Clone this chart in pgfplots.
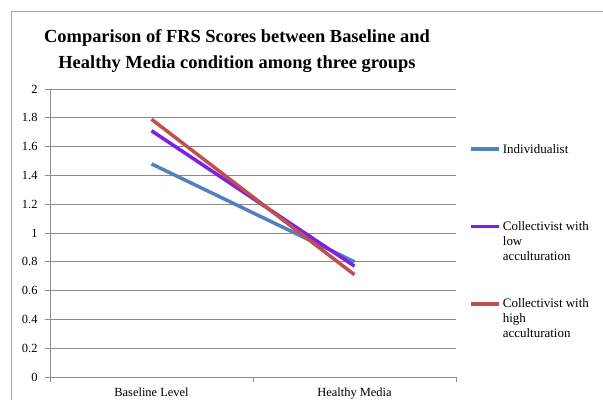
\documentclass[border=0pt]{standalone}
\usepackage{pgfplots}
\pgfplotsset{compat=1.18}
\usepackage{fontspec}
\setmainfont{Liberation Serif}
\definecolor{cblue}{HTML}{4F81BD}
\definecolor{cpurple}{HTML}{7F1FDF}
\definecolor{cred}{HTML}{C0504D}
\definecolor{cgrid}{HTML}{8C8C8C}
\begin{document}
\begin{tikzpicture}[x=1bp,y=1bp]
\useasboundingbox (0,0) rectangle (603,400);
\draw[black!35, line width=1bp] (11.5,0) -- (11.5,388.5) -- (603,388.5);
\node[font=\bfseries\fontsize{18.5}{22}\selectfont, anchor=base] at (237,358) {Comparison of FRS Scores between Baseline and};
\node[font=\bfseries\fontsize{18.5}{22}\selectfont, anchor=base] at (237,332) {Healthy Media condition among three groups};
\begin{axis}[
  at={(50bp,23bp)}, anchor=south west,
  scale only axis, width=406bp, height=288bp,
  xmin=-0.5, xmax=1.5, ymin=0, ymax=2,
  axis x line=bottom, axis y line=left,
  axis line style={-, cgrid, line width=0.8bp},
  xtick={-0.5,0.5,1.5}, x tick label as interval,
  xticklabels={Baseline Level, Healthy Media},
  ytick={0,0.2,0.4,0.6,0.8,1,1.2,1.4,1.6,1.8,2},
  ymajorgrids, grid style={cgrid, line width=0.8bp},
  tick align=outside, major tick length=5bp,
  tick style={cgrid, line width=0.8bp},
  /pgf/number format/fixed, /pgf/number format/precision=1,
  /pgf/number format/assume math mode=true,
  ticklabel style={font=\fontsize{12.5}{14}\selectfont},
  yticklabel style={xshift=-4bp},
  xticklabel style={yshift=-2bp},
  clip=false,
  legend style={draw=none, fill=none, at={(axis description cs:1.033,0.821)}, anchor=north west,
    row sep=61.5bp, column sep=0pt, inner sep=0pt, outer sep=0pt,
    font=\fontsize{13}{15}\selectfont,
    cells={anchor=base west, inner sep=0pt}},
  legend image code/.code={\draw[#1] (0bp,3.8bp) -- (28bp,3.8bp);},
]
\addplot[cblue, line width=3.5bp] coordinates {(0,1.48) (1,0.80)};
\addlegendentry{\begin{tabular}[t]{@{}l@{}}Individualist\end{tabular}}
\addplot[cpurple, line width=3.5bp] coordinates {(0,1.71) (1,0.77)};
\addlegendentry{\begin{tabular}[t]{@{}l@{}}Collectivist with\\low\\acculturation\end{tabular}}
\addplot[cred, line width=3.5bp] coordinates {(0,1.79) (1,0.71)};
\addlegendentry{\begin{tabular}[t]{@{}l@{}}Collectivist with\\high\\acculturation\end{tabular}}
\end{axis}
\end{tikzpicture}
\end{document}
